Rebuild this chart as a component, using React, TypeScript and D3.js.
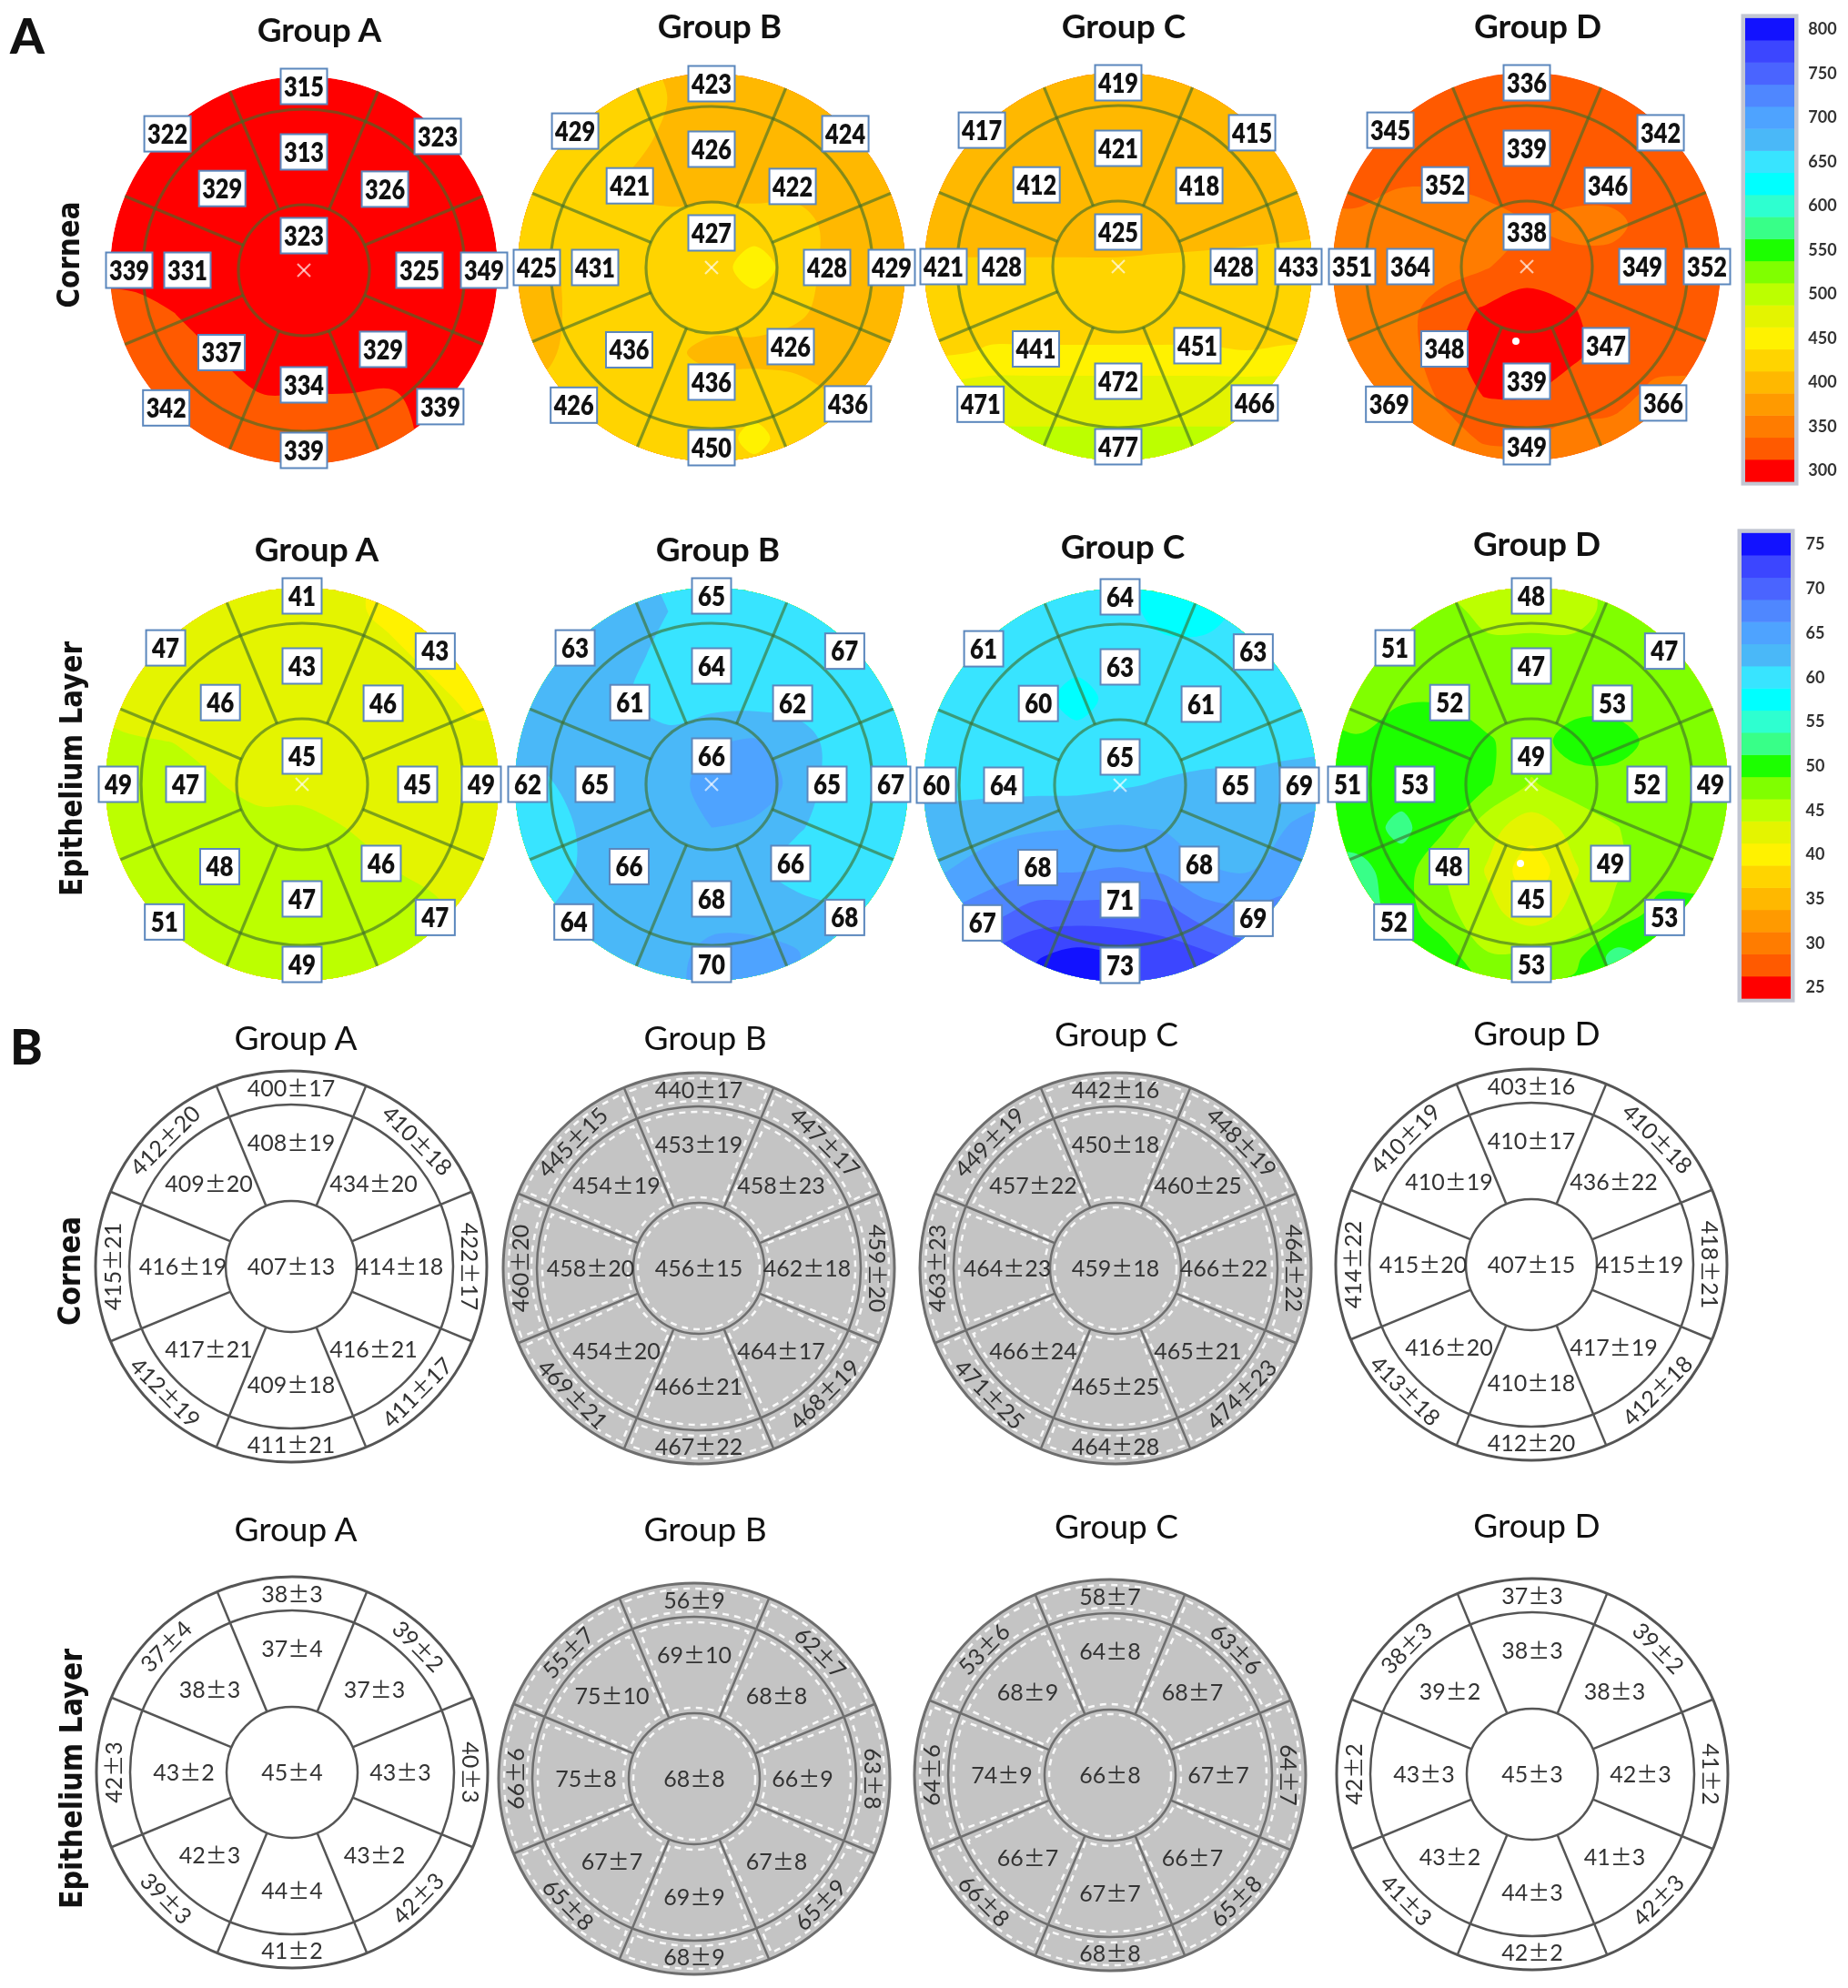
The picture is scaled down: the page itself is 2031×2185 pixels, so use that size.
import * as d3 from 'd3';

const GROUPS = ['Group A', 'Group B', 'Group C', 'Group D'];

// legend, top to bottom
const CORNEA_TICKS = [800, 750, 700, 650, 600, 550, 500, 450, 400, 350, 300];
const EPI_TICKS = [75, 70, 65, 60, 55, 50, 45, 40, 35, 30, 25];
const BAND_COLORS = [
  '#ff0000', '#ff5a00', '#ff7c00', '#ff9a00', '#ffb800', '#ffd400', '#fff200',
  '#e4f400', '#bcff00', '#80ff00', '#1cff00', '#38ff88', '#2effd0', '#00ffff',
  '#38e4ff', '#4ab8f8', '#4ea3ff', '#4f87ff', '#4a64ff', '#3c46ff', '#1212ff',
];

// segment values: centre, 8 middle ring (clockwise from top), 8 outer ring
const mapCorneaA = [323, 313, 326, 325, 329, 334, 337, 331, 329, 315, 323, 349, 339, 339, 342, 339, 322];
const mapCorneaB = [427, 426, 422, 428, 426, 436, 436, 431, 421, 423, 424, 429, 436, 450, 426, 425, 429];
const mapCorneaC = [425, 421, 418, 428, 451, 472, 441, 428, 412, 419, 415, 433, 466, 477, 471, 421, 417];
const mapCorneaD = [338, 339, 346, 349, 347, 339, 348, 364, 352, 336, 342, 352, 366, 349, 369, 351, 345];
const mapEpiA = [45, 43, 46, 45, 46, 47, 48, 47, 46, 41, 43, 49, 47, 49, 51, 49, 47];
const mapEpiB = [66, 64, 62, 65, 66, 68, 66, 65, 61, 65, 67, 67, 68, 70, 64, 62, 63];
const mapEpiC = [65, 63, 61, 65, 68, 71, 68, 64, 60, 64, 63, 69, 69, 73, 67, 60, 61];
const mapEpiD = [49, 47, 53, 52, 49, 45, 48, 53, 52, 48, 47, 49, 53, 53, 52, 51, 51];

const gridCorneaA = [
  [300, 300, 300, 300, 300, 300, 300, 300, 300, 300, 300],
  [300, 300, 300, 300, 300, 300, 300, 300, 300, 300, 300],
  [300, 300, 300, 300, 300, 300, 300, 300, 300, 300, 300],
  [300, 300, 300, 300, 300, 300, 300, 300, 300, 300, 300],
  [300, 300, 300, 300, 300, 300, 300, 300, 300, 300, 300],
  [300, 300, 300, 300, 300, 300, 300, 300, 300, 300, 300],
  [325, 325, 312, 300, 300, 300, 300, 300, 300, 300, 300],
  [325, 325, 325, 312, 300, 300, 300, 300, 300, 300, 300],
  [325, 325, 325, 325, 314, 314, 314, 316, 305, 300, 300],
  [325, 325, 325, 325, 325, 325, 325, 325, 305, 300, 300],
  [325, 325, 325, 325, 325, 325, 325, 325, 300, 300, 300],
];
const gridCorneaB = [
  [425, 425, 425, 425, 400, 400, 400, 400, 400, 400, 400],
  [425, 425, 425, 425, 412, 400, 400, 400, 400, 400, 400],
  [425, 425, 425, 425, 405, 400, 400, 400, 400, 400, 400],
  [425, 425, 425, 410, 400, 400, 400, 400, 400, 400, 400],
  [425, 425, 425, 418, 422, 425, 425, 425, 400, 400, 400],
  [405, 405, 425, 425, 425, 425, 450, 425, 400, 400, 400],
  [405, 405, 420, 425, 425, 425, 425, 418, 400, 400, 400],
  [405, 405, 425, 425, 418, 405, 405, 400, 400, 400, 400],
  [425, 420, 425, 425, 425, 425, 425, 425, 410, 400, 400],
  [425, 425, 425, 425, 425, 425, 445, 425, 425, 410, 400],
  [425, 425, 425, 425, 425, 425, 425, 425, 425, 425, 425],
];
const gridCorneaC = [
  [400, 400, 400, 400, 400, 400, 400, 400, 400, 400, 400],
  [400, 400, 400, 400, 400, 400, 400, 400, 400, 400, 400],
  [400, 400, 400, 400, 400, 400, 400, 400, 400, 400, 400],
  [400, 400, 400, 400, 400, 400, 400, 400, 400, 400, 400],
  [400, 400, 400, 400, 400, 400, 400, 400, 402, 404, 405],
  [416, 416, 416, 416, 416, 416, 418, 420, 422, 424, 425],
  [408, 420, 425, 425, 425, 425, 425, 425, 425, 425, 425],
  [430, 434, 440, 440, 440, 440, 440, 440, 438, 440, 440],
  [470, 475, 480, 480, 480, 480, 480, 480, 480, 480, 480],
  [490, 490, 490, 490, 490, 490, 490, 490, 490, 490, 490],
  [500, 500, 500, 500, 500, 500, 500, 500, 500, 500, 500],
];
const gridCorneaD = [
  [325, 325, 325, 325, 325, 325, 325, 325, 325, 325, 325],
  [325, 325, 325, 325, 325, 325, 325, 325, 325, 325, 325],
  [325, 325, 325, 325, 325, 325, 325, 325, 325, 325, 325],
  [325, 325, 335, 335, 328, 325, 325, 325, 325, 325, 325],
  [345, 345, 350, 350, 350, 336, 345, 345, 325, 325, 325],
  [350, 350, 350, 350, 340, 325, 328, 328, 325, 325, 325],
  [350, 350, 350, 325, 310, 300, 310, 325, 325, 325, 325],
  [350, 350, 350, 325, 300, 300, 305, 325, 325, 325, 345],
  [350, 350, 350, 335, 311, 310, 325, 325, 345, 350, 350],
  [350, 350, 350, 345, 335, 335, 345, 350, 350, 350, 350],
  [350, 350, 350, 350, 350, 350, 350, 350, 350, 350, 350],
];
const gridEpiA = [
  [42.5, 42.5, 42.5, 42.5, 42.5, 42.5, 42.5, 40, 40, 40, 40],
  [42.5, 42.5, 42.5, 42.5, 42.5, 42.5, 42.5, 40, 40, 40, 40],
  [42.5, 42.5, 42.5, 42.5, 42.5, 42.5, 42.5, 42.5, 40, 40, 40],
  [42.5, 42.5, 42.5, 42.5, 42.5, 42.5, 42.5, 42.5, 42.5, 40, 40],
  [45, 44, 43.7, 42.5, 42.5, 42.5, 42.5, 42.5, 42.5, 42.5, 42.5],
  [45, 45, 45, 44, 42.5, 42.5, 42.5, 42.5, 42.5, 42.5, 42.5],
  [45, 45, 45, 45, 45, 45, 43.75, 42.5, 42.5, 42.5, 42.5],
  [45, 45, 45, 45, 45, 45, 45, 44, 42.5, 42.5, 42.5],
  [45, 45, 45, 45, 45, 45, 45, 45, 45, 42.5, 42.5],
  [45, 45, 45, 45, 45, 45, 45, 45, 45, 45, 45],
  [45, 45, 45, 45, 45, 45, 45, 45, 45, 45, 45],
];
const gridEpiB = [
  [62.5, 62.5, 62.5, 62.5, 60, 60, 60, 60, 60, 60, 60],
  [62.5, 62.5, 62.5, 62.5, 61.25, 60, 60, 60, 60, 60, 60],
  [62.5, 62.5, 62.5, 62.5, 60, 60, 60, 60, 60, 60, 60],
  [62.5, 62.5, 62.5, 61.5, 60, 60, 60, 60, 60, 60, 60],
  [62.5, 62.5, 62.5, 62.5, 62, 63.5, 64, 62.5, 60, 60, 60],
  [60, 60.5, 62.5, 62.5, 62.5, 65, 66, 62.5, 60, 60, 60],
  [60, 60, 61.5, 62.5, 62.5, 63.75, 63, 61.5, 60, 60, 60],
  [60, 60, 61.5, 62.5, 62.5, 62.5, 62, 60, 60, 60, 60],
  [60, 61, 62.5, 62.5, 62.5, 62.5, 62.5, 62.5, 61.5, 60, 60],
  [62.5, 62.5, 62.5, 62.5, 62.5, 65, 65, 64, 60, 60, 60],
  [62.5, 62.5, 62.5, 62.5, 62.5, 65, 65, 63, 60, 60, 60],
];
const gridEpiC = [
  [60, 60, 60, 60, 60, 60, 57.5, 57.5, 60, 60, 60],
  [60, 60, 60, 60, 60, 60, 57.5, 57.5, 60, 60, 60],
  [60, 60, 60, 60, 60, 60, 60, 60, 60, 60, 60],
  [60, 60, 60, 60, 57.5, 60, 60, 60, 60, 60, 60],
  [60, 60, 60, 60, 60, 60, 60, 60, 60.2, 60.4, 60.5],
  [60.5, 60.5, 60.5, 60.5, 60.5, 61, 61.5, 62, 62, 62.5, 62.5],
  [62.5, 62.5, 63, 63.5, 63.7, 64, 63.6, 62.5, 62.5, 64, 65],
  [63, 63.75, 65, 66, 66.2, 66.5, 66, 64, 63.75, 65, 65],
  [65, 66.5, 68, 70, 70, 70, 70, 67.5, 67, 67.5, 67],
  [68, 70, 72, 73.5, 75, 74, 72.5, 72, 70, 70, 70],
  [70, 70, 75, 75, 75, 75, 72.5, 72.5, 72, 72, 70],
];
const gridEpiD = [
  [47.5, 47.5, 47.5, 45, 45, 45, 45, 47.5, 47.5, 47.5, 47.5],
  [47.5, 47.5, 47.5, 47.5, 45, 45, 45, 47.5, 47.5, 47.5, 47.5],
  [47.5, 47.5, 47.5, 47.5, 47.5, 47.5, 47.5, 47.5, 47.5, 47.5, 47.5],
  [47.5, 47.5, 48.5, 48.5, 47.5, 47.5, 47.5, 47.5, 47.5, 47.5, 47.5],
  [50, 49, 50, 50, 49, 47.5, 50, 50, 47.5, 47.5, 47.5],
  [50, 50, 50, 50, 49, 46, 47.5, 47.5, 47.5, 47.5, 47.5],
  [50, 50, 52, 49, 44.5, 42.5, 44.5, 46.2, 47.5, 47.5, 47.5],
  [52, 52, 50, 46.2, 43.5, 39.5, 43.5, 46, 47.5, 47.5, 50],
  [53, 53, 50, 47, 44.5, 42.5, 44.5, 47, 50, 50, 50],
  [53, 53, 53, 50, 46.5, 47, 48, 52.5, 50, 50, 50],
  [53, 53, 53, 50, 50, 50, 50, 50, 50, 50, 50],
];

// mean and SD tables: centre, 8 middle ring, 8 outer ring
const meanCorneaA = [407, 408, 434, 414, 416, 409, 417, 416, 409, 400, 410, 422, 411, 411, 412, 415, 412];
const sdCorneaA = [13, 19, 20, 18, 21, 18, 21, 19, 20, 17, 18, 17, 17, 21, 19, 21, 20];
const meanCorneaB = [456, 453, 458, 462, 464, 466, 454, 458, 454, 440, 447, 459, 468, 467, 469, 460, 445];
const sdCorneaB = [15, 19, 23, 18, 17, 21, 20, 20, 19, 17, 17, 20, 19, 22, 21, 20, 15];
const meanCorneaC = [459, 450, 460, 466, 465, 465, 466, 464, 457, 442, 448, 464, 474, 464, 471, 463, 449];
const sdCorneaC = [18, 18, 25, 22, 21, 25, 24, 23, 22, 16, 19, 22, 23, 28, 25, 23, 19];
const meanCorneaD = [407, 410, 436, 415, 417, 410, 416, 415, 410, 403, 410, 418, 412, 412, 413, 414, 410];
const sdCorneaD = [15, 17, 22, 19, 19, 18, 20, 20, 19, 16, 18, 21, 18, 20, 18, 22, 19];
const meanEpiA = [45, 37, 37, 43, 43, 44, 42, 43, 38, 38, 39, 40, 42, 41, 39, 42, 37];
const sdEpiA = [4, 4, 3, 3, 2, 4, 3, 2, 3, 3, 2, 3, 3, 2, 3, 3, 4];
const meanEpiB = [68, 69, 68, 66, 67, 69, 67, 75, 75, 56, 62, 63, 65, 68, 65, 66, 55];
const sdEpiB = [8, 10, 8, 9, 8, 9, 7, 8, 10, 9, 7, 8, 9, 9, 8, 6, 7];
const meanEpiC = [66, 64, 68, 67, 66, 67, 66, 74, 68, 58, 63, 64, 65, 68, 66, 64, 53];
const sdEpiC = [8, 8, 7, 7, 7, 7, 7, 9, 9, 7, 6, 7, 8, 8, 8, 6, 6];
const meanEpiD = [45, 38, 38, 42, 41, 44, 43, 43, 39, 37, 39, 41, 42, 42, 41, 42, 38];
const sdEpiD = [3, 3, 3, 3, 3, 3, 2, 3, 2, 3, 2, 2, 3, 2, 3, 2, 3];

const SECTOR = 45;
const rad = (deg: number) => (deg * Math.PI) / 180;
const FONT = 'Lato, "Liberation Sans", sans-serif';

const bandScale = (lo: number, step: number) =>
  d3.scaleQuantize<string>().domain([lo - step / 2, lo + step * 20.5]).range(BAND_COLORS);

// label distance from the disc centre, per direction, clockwise from top
const HEAT_MID_R = [130, 126, 127, 123, 126, 128, 128, 127];
const HEAT_OUTER_CORNEA = [202, 208, 198, 212, 198, 214, 192, 212];
const HEAT_OUTER_EPI = [207, 207, 197, 207, 198, 214, 202, 212];

function HeatMap({ cx, cy, r, grid, values, lo, step, centerShift, dot, id, outerR }: {
  cx: number; cy: number; r: number; grid: number[][]; values: number[];
  lo: number; step: number; centerShift: number; dot?: [number, number]; id: string; outerR: number[];
}) {
  const color = bandScale(lo, step);
  const edges = d3.range(1, 21).map(i => lo - step / 2 + i * step);
  const bands = d3.contours().size([11, 11]).smooth(true).thresholds(edges)(grid.flat());
  const px = d3.scaleLinear().domain([0.5, 10.5]).range([cx - 1.1 * r, cx + 1.1 * r]);
  const py = d3.scaleLinear().domain([0.5, 10.5]).range([cy - 1.1 * r, cy + 1.1 * r]);
  const ring = d3.line<number[]>().x(d => px(d[0])).y(d => py(d[1])).curve(d3.curveCatmullRomClosed.alpha(0.5));
  const wide = values[0] > 99;
  const boxW = wide ? 51 : 43;
  const label = (v: number, pos: [number, number], key: string) => (
    <g key={key} transform={`translate(${pos[0]},${pos[1]})`}>
      <rect x={-boxW / 2} y={-19.5} width={boxW} height={39} fill="#fff" stroke="#5b87bd" strokeWidth={2} />
      <text textAnchor="middle" dy="0.36em" fontFamily={FONT} fontWeight={800} fontSize={30} fill="#111"
        textLength={wide ? 44 : 30} lengthAdjust="spacingAndGlyphs">{v}</text>
    </g>
  );
  const at = (deg: number, rr: number): [number, number] => {
    const [x, y] = d3.pointRadial(rad(deg), rr);
    return [cx + x, cy + y];
  };
  return (
    <g>
      <clipPath id={id}><circle cx={cx} cy={cy} r={r} /></clipPath>
      <g clipPath={`url(#${id})`}>
        <circle cx={cx} cy={cy} r={r} fill={BAND_COLORS[0]} />
        {bands.map(b => (
          <path key={b.value} fill={color(b.value + step / 2)} fillRule="evenodd"
            d={b.coordinates.flatMap(poly => poly.map(c => ring(c.slice(0, -1)) ?? '')).join('')} />
        ))}
      </g>
      <g fill="none" stroke="#3c6e28" strokeOpacity={0.62} strokeWidth={3.2}>
        <circle cx={cx} cy={cy} r={72} />
        <circle cx={cx} cy={cy} r={177} />
        {d3.range(8).map(k => {
          const a = at(22.5 + k * SECTOR, 72);
          const b = at(22.5 + k * SECTOR, r);
          return <line key={k} x1={a[0]} y1={a[1]} x2={b[0]} y2={b[1]} />;
        })}
      </g>
      {/* thinnest-point cross at the centre of the map */}
      <g stroke="#fff" strokeOpacity={0.65} strokeWidth={2.2}>
        <line x1={cx - 7} y1={cy - 7} x2={cx + 7} y2={cy + 7} />
        <line x1={cx - 7} y1={cy + 7} x2={cx + 7} y2={cy - 7} />
      </g>
      {dot && <circle cx={cx + dot[0]} cy={cy + dot[1]} r={4} fill="#fff" />}
      {label(values[0], [cx, cy + centerShift], 'c')}
      {d3.range(8).map(k => label(values[k + 1], at(k * SECTOR, HEAT_MID_R[k]), `m${k}`))}
      {d3.range(8).map(k => label(values[k + 9], at(k * SECTOR, outerR[k]), `o${k}`))}
    </g>
  );
}

const MID_R = [136, 128, 119, 128, 130, 128, 119, 128];
const OUTER_TILT = [0, 45, 90, -45, 0, 45, -90, -45];

function MeanMap({ cx, cy, means, sds, shaded }: {
  cx: number; cy: number; means: number[]; sds: number[]; shaded?: boolean;
}) {
  const r0 = 72;
  const r1 = 178;
  const r2 = 215;
  const sector = d3.arc<{ a: number; b: number; c: number; d: number }>()
    .innerRadius(d => d.a).outerRadius(d => d.b).startAngle(d => d.c).endAngle(d => d.d);
  const line = shaded ? '#6e6e6e' : '#555';
  const at = (deg: number, rr: number): [number, number] => {
    const [x, y] = d3.pointRadial(rad(deg), rr);
    return [cx + x, cy + y];
  };
  const txt = (i: number, pos: [number, number], tilt: number) => (
    <text key={i} transform={`translate(${pos[0]},${pos[1]}) rotate(${tilt})`} textAnchor="middle" dy="0.36em"
      fontFamily={FONT} fontSize={25} fill="#333">
      {means[i]}<tspan fontFamily='"Noto Sans CJK JP", sans-serif' fontSize={24}>±</tspan>{sds[i]}
    </text>
  );
  return (
    <g>
      <circle cx={cx} cy={cy} r={r2} fill={shaded ? '#c4c4c4' : '#fff'} stroke={line} strokeWidth={3} />
      {shaded && (
        <g fill="none" stroke="#fff" strokeWidth={2.5} strokeDasharray="7 6" strokeOpacity={0.9}>
          <circle cx={cx} cy={cy} r={r0 - 5} />
          {d3.range(8).flatMap(k => {
            const c = rad(22.5 + k * SECTOR);
            const d = rad(67.5 + k * SECTOR);
            return [
              <path key={`i${k}`} transform={`translate(${cx},${cy})`} d={sector({ a: r0 + 6, b: r1 - 6, c: c + 0.04, d: d - 0.04 }) ?? ''} />,
              <path key={`o${k}`} transform={`translate(${cx},${cy})`} d={sector({ a: r1 + 6, b: r2 - 6, c: c + 0.025, d: d - 0.025 }) ?? ''} />,
            ];
          })}
        </g>
      )}
      <g fill="none" stroke={line} strokeWidth={2.5}>
        <circle cx={cx} cy={cy} r={r0} />
        <circle cx={cx} cy={cy} r={r1} />
        {d3.range(8).map(k => {
          const a = at(22.5 + k * SECTOR, r0);
          const b = at(22.5 + k * SECTOR, r2);
          return <line key={k} x1={a[0]} y1={a[1]} x2={b[0]} y2={b[1]} />;
        })}
      </g>
      {txt(0, [cx, cy], 0)}
      {d3.range(8).map(k => txt(k + 1, at(k * SECTOR, MID_R[k]), 0))}
      {d3.range(8).map(k => txt(k + 9, at(k * SECTOR, 196), OUTER_TILT[k]))}
    </g>
  );
}

function Legend({ ticks, lo, hi, yLo, yHi, x, labelX, size }: {
  ticks: number[]; lo: number; hi: number; yLo: number; yHi: number; x: number; labelX: number; size: number;
}) {
  const y = d3.scaleLinear().domain([lo, hi]).range([yLo, yHi]);
  const step = (hi - lo) / 20;
  const bandH = Math.abs(y(lo + step) - y(lo));
  return (
    <g>
      <rect x={x - 2} y={yHi - bandH / 2 - 2} width={58} height={yLo - yHi + bandH + 4} fill="none" stroke="#c2c6d2" strokeWidth={5} />
      {BAND_COLORS.map((c, i) => (
        <rect key={c} x={x} y={y(lo + i * step) - bandH / 2} width={54} height={bandH + 0.5} fill={c} />
      ))}
      {ticks.map(t => (
        <text key={t} x={labelX} y={y(t)} dy="0.36em" textAnchor="middle" fontFamily={FONT} fontWeight={700} fontSize={size} fill="#333">{t}</text>
      ))}
    </g>
  );
}

const Title = ({ x, y, text, bold, size }: { x: number; y: number; text: string; bold?: boolean; size: number }) => (
  <text x={x} y={y} dy="0.36em" textAnchor="middle" fontFamily={FONT} fontWeight={bold ? 700 : 400} fontSize={size} fill="#111">{text}</text>
);

const SideLabel = ({ x, y, text, len }: { x: number; y: number; text: string; len: number }) => (
  <text transform={`translate(${x},${y}) rotate(-90)`} textAnchor="middle" dy="0.36em" fontFamily='"DejaVu Sans", sans-serif'
    fontWeight={700} fontSize={33} fill="#111" textLength={len} lengthAdjust="spacingAndGlyphs">{text}</text>
);

const Letter = ({ x, y, text }: { x: number; y: number; text: string }) => (
  <text x={x} y={y} dy="0.36em" textAnchor="middle" fontFamily={FONT} fontWeight={900} fontSize={54} fill="#111">{text}</text>
);

const heatCornea = [
  { cx: 334, cy: 297, grid: gridCorneaA, values: mapCorneaA },
  { cx: 782, cy: 294, grid: gridCorneaB, values: mapCorneaB },
  { cx: 1229, cy: 293, grid: gridCorneaC, values: mapCorneaC },
  { cx: 1678, cy: 293, grid: gridCorneaD, values: mapCorneaD, dot: [-12, 82] as [number, number] },
];
const heatEpi = [
  { cx: 332, cy: 862, grid: gridEpiA, values: mapEpiA },
  { cx: 782, cy: 862, grid: gridEpiB, values: mapEpiB },
  { cx: 1231, cy: 863, grid: gridEpiC, values: mapEpiC },
  { cx: 1683, cy: 862, grid: gridEpiD, values: mapEpiD, dot: [-12, 87] as [number, number] },
];
const tableCornea = [
  { cx: 320, cy: 1392, means: meanCorneaA, sds: sdCorneaA },
  { cx: 768, cy: 1394, means: meanCorneaB, sds: sdCorneaB, shaded: true },
  { cx: 1226, cy: 1394, means: meanCorneaC, sds: sdCorneaC, shaded: true },
  { cx: 1683, cy: 1390, means: meanCorneaD, sds: sdCorneaD },
];
const tableEpi = [
  { cx: 321, cy: 1948, means: meanEpiA, sds: sdEpiA },
  { cx: 763, cy: 1955, means: meanEpiB, sds: sdEpiB, shaded: true },
  { cx: 1220, cy: 1951, means: meanEpiC, sds: sdEpiC, shaded: true },
  { cx: 1684, cy: 1950, means: meanEpiD, sds: sdEpiD },
];

const TITLE_X = [
  [351, 791, 1235, 1690],
  [348, 789, 1234, 1689],
  [325, 775, 1227, 1689],
  [325, 775, 1227, 1689],
];
const TITLE_Y = [
  [33, 29, 29, 29],
  [604, 604, 601, 598],
  [1141, 1141, 1137, 1136],
  [1681, 1681, 1678, 1677],
];

export default function App() {
  return (
    <svg width={2031} height={2185} style={{ position: 'absolute', left: 0, top: 0, filter: 'blur(0.6px)' }}>
      <rect width={2031} height={2185} fill="#fff" />
      <Letter x={30} y={40} text="A" />
      <Letter x={29} y={1151} text="B" />
      <SideLabel x={75} y={280} text="Cornea" len={117} />
      <SideLabel x={78} y={845} text="Epithelium Layer" len={280} />
      <SideLabel x={76} y={1397} text="Cornea" len={120} />
      <SideLabel x={78} y={1955} text="Epithelium Layer" len={286} />

      {TITLE_X.map((row, i) => row.map((x, j) => (
        <Title key={`${i}${j}`} x={x} y={TITLE_Y[i][j]} text={GROUPS[j]} bold={i < 2} size={37} />
      )))}

      {heatCornea.map((m, i) => (
        <HeatMap key={i} id={`hc${i}`} {...m} r={213} lo={300} step={25} centerShift={-38} outerR={HEAT_OUTER_CORNEA} />
      ))}
      {heatEpi.map((m, i) => (
        <HeatMap key={i} id={`he${i}`} {...m} r={216} lo={25} step={2.5} centerShift={-31} outerR={HEAT_OUTER_EPI} />
      ))}

      <Legend ticks={CORNEA_TICKS} lo={300} hi={800} yLo={517} yHi={32} x={1918} labelX={2003} size={18} />
      <Legend ticks={EPI_TICKS} lo={25} hi={75} yLo={1085} yHi={598} x={1914} labelX={1995} size={18} />

      {tableCornea.map((m, i) => <MeanMap key={i} {...m} />)}
      {tableEpi.map((m, i) => <MeanMap key={i} {...m} />)}
    </svg>
  );
}
